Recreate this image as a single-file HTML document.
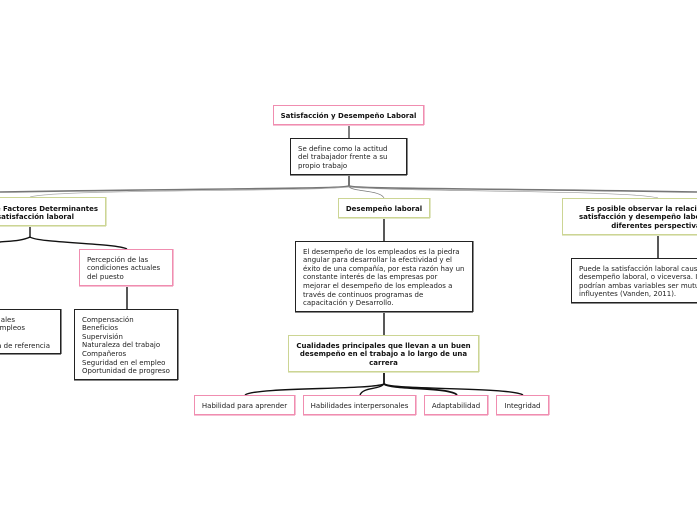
<!DOCTYPE html>
<html lang="es">
<head>
<meta charset="utf-8">
<title>Satisfacción y Desempeño Laboral</title>
<style>
html,body{margin:0;padding:0;background:#fff}
#c{position:relative;width:697px;height:520px;overflow:hidden;background:#fff;font-family:"DejaVu Sans",sans-serif;font-size:7px;line-height:8.6px;color:#222}
.b{position:absolute;box-sizing:border-box;background:#fff;white-space:nowrap}
.k{border:1px solid #222;box-shadow:0 1px 0 #888,1px 0 0 #888}
.p{border:1px solid #f08db0;box-shadow:0 1px 0 #f6bfd3,1px 0 0 #f6bfd3}
.o{border:1px solid #ccd594;box-shadow:0 1px 0 #e2e7c4,1px 0 0 #e2e7c4}
.t{position:absolute;white-space:nowrap;margin-top:.6px}
.h{font-weight:bold;color:#111;text-align:center}
svg{position:absolute;left:0;top:0}
</style>
</head>
<body>
<div id="c">
<svg width="697" height="520" viewBox="0 0 697 520" fill="none">
  <g stroke="#444" stroke-width="1.5">
    <path d="M349 125V138" stroke="#555"/>
    <path d="M349 175V187"/>
  </g>
  <path d="M349 186C338 189 250 188 0 192" stroke="#777" stroke-width="1.6"/>
  <path d="M349 186C360 189 450 188 697 192" stroke="#777" stroke-width="1.6"/>
  <path d="M349 187C300 192 60 189 30 197" stroke="#aaa" stroke-width=".7"/>
  <path d="M349 187C355 192 380 190 384 198" stroke="#777" stroke-width=".7"/>
  <path d="M349 187C400 192 630 190 658 198" stroke="#999" stroke-width=".7"/>
  <g stroke="#111" stroke-width="1.4">
    <path d="M30 226V238"/>
    <path d="M30 237C22 241 10 241 0 242"/>
    <path d="M30 237C38 243 115 243 127 249"/>
    <path d="M127 286V309"/>
    <path d="M384 218V241"/>
    <path d="M384 312V335"/>
    <path d="M658 235V258"/>
    <path d="M384 372V385" stroke-width="1.8"/>
    <path d="M384 384C370 390 255 387 245 395"/>
    <path d="M384 384C378 390 363 387 360 395"/>
    <path d="M384 384C392 390 450 387 457 395" stroke-width="1.8"/>
    <path d="M384 384C395 390 510 387 523 395"/>
  </g>
</svg>

<div class="b p" style="left:273px;top:105px;width:151px;height:20px"></div>
<div class="t h" style="left:273px;top:111px;width:151px">Satisfacción y Desempeño Laboral</div>

<div class="b k" style="left:290px;top:138px;width:117px;height:37px"></div>
<div class="t" style="left:298px;top:144px">Se define como la actitud<br>del trabajador frente a su<br>propio trabajo</div>

<div class="b o" style="left:-46px;top:197px;width:152px;height:29px"></div>
<div class="t h" style="right:599px;top:204px">Análisis de Factores Determinantes</div>
<div class="t h" style="right:623px;top:212.6px">la satisfacción laboral</div>

<div class="b o" style="left:338px;top:198px;width:92px;height:20px"></div>
<div class="t h" style="left:338px;top:204px;width:92px">Desempeño laboral</div>

<div class="b o" style="left:562px;top:198px;width:192px;height:37px"></div>
<div class="t h" style="left:562px;top:204px;width:192px">Es posible observar la relación entre<br>satisfacción y desempeño laboral desde<br>diferentes perspectivas</div>

<div class="b p" style="left:79px;top:249px;width:94px;height:37px"></div>
<div class="t" style="left:87px;top:255px">Percepción de las<br>condiciones actuales<br>del puesto</div>

<div class="b k" style="left:-80px;top:309px;width:141px;height:45px"></div>
<div class="t" style="right:682px;top:315px">ales</div>
<div class="t" style="right:672px;top:323.6px">mpleos</div>
<div class="t" style="right:647px;top:341px">a de referencia</div>

<div class="b k" style="left:74px;top:309px;width:104px;height:71px"></div>
<div class="t" style="left:82px;top:315px">Compensación<br>Beneficios<br>Supervisión<br>Naturaleza del trabajo<br>Compañeros<br>Seguridad en el empleo<br>Oportunidad de progreso</div>

<div class="b k" style="left:295px;top:241px;width:178px;height:71px"></div>
<div class="t" style="left:303px;top:247px">El desempeño de los empleados es la piedra<br>angular para desarrollar la efectividad y el<br>éxito de una compañía, por esta razón hay un<br>constante interés de las empresas por<br>mejorar el desempeño de los empleados a<br>través de continuos programas de<br>capacitación y Desarrollo.</div>

<div class="b o" style="left:288px;top:335px;width:191px;height:37px"></div>
<div class="t h" style="left:288px;top:341px;width:191px">Cualidades principales que llevan a un buen<br>desempeño en el trabajo a lo largo de una<br>carrera</div>

<div class="b k" style="left:571px;top:258px;width:173px;height:45px"></div>
<div class="t" style="left:579px;top:264px">Puede la satisfacción laboral causar el<br>desempeño laboral, o viceversa. Incluso<br>podrían ambas variables ser mutuamente<br>influyentes (Vanden, 2011).</div>

<div class="b p" style="left:194px;top:395px;width:101px;height:20px"></div>
<div class="t" style="left:194px;top:401px;width:101px;text-align:center">Habilidad para aprender</div>
<div class="b p" style="left:303px;top:395px;width:113px;height:20px"></div>
<div class="t" style="left:303px;top:401px;width:113px;text-align:center">Habilidades interpersonales</div>
<div class="b p" style="left:424px;top:395px;width:64px;height:20px"></div>
<div class="t" style="left:424px;top:401px;width:64px;text-align:center">Adaptabilidad</div>
<div class="b p" style="left:496px;top:395px;width:53px;height:20px"></div>
<div class="t" style="left:496px;top:401px;width:53px;text-align:center">Integridad</div>
</div>
</body>
</html>
